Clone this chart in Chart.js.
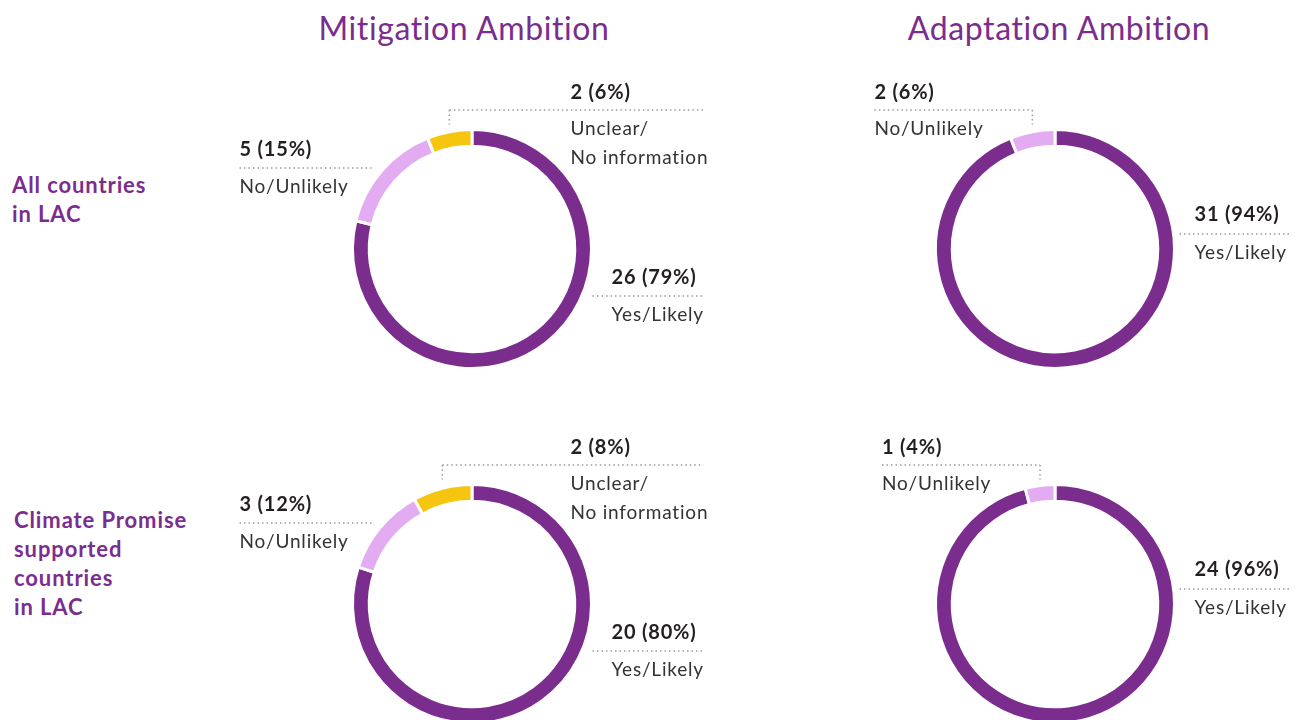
<!DOCTYPE html>
<html>
<head>
<meta charset="utf-8">
<script src="https://cdn.jsdelivr.net/npm/chart.js@4"></script>
<style>
  html, body { margin: 0; padding: 0; background: #fff; }
  body { width: 1300px; height: 720px; position: relative; overflow: hidden; font-family: Lato, "Open Sans", sans-serif; }
  .title { position: absolute; top: 8px; width: 420px; text-align: center; font-size: 32px; line-height: 40px; color: #7B2D8E; letter-spacing: 0.6px; }
  .rowlab { position: absolute; font-size: 22px; font-weight: bold; line-height: 29px; color: #7B2D8E; letter-spacing: 0.9px; }
  canvas { position: absolute; }
</style>
</head>
<body>
<div class="title" style="left:254px">Mitigation Ambition</div>
<div class="title" style="left:849px">Adaptation Ambition</div>
<div class="rowlab" style="left:12px; top:170px">All countries<br>in LAC</div>
<div class="rowlab" style="left:14px; top:505px">Climate Promise<br>supported<br>countries<br>in LAC</div>

<canvas id="mitAll" width="500" height="360" style="left:222px; top:69px"></canvas>
<canvas id="adaAll" width="500" height="360" style="left:805px; top:69px"></canvas>
<canvas id="mitCP" width="500" height="360" style="left:222px; top:424px"></canvas>
<canvas id="adaCP" width="500" height="360" style="left:805px; top:424px"></canvas>

<script>
// Dados
const categories = ['Yes/Likely', 'No/Unlikely', 'Unclear/No information'];
const mitigationAll = [26, 5, 2];
const mitigationCP = [20, 3, 2];
const adaptationAll = [31, 2];
const adaptationCP = [24, 1];

const colors = ['#7B2D8E', '#E3ABF1', '#F6C50F'];
const FONT = 'Lato, "Open Sans", sans-serif';

// Posições dos rótulos (relativas ao centro da rosca)
const mitigationLayout = [
    { index: 0, tx: 139.5, ty: 29, lineY: 47, x0: 120.5, x1: 231.5, lines: ['Yes/Likely'] },
    { index: 1, tx: -232.5, ty: -99, lineY: -81, x0: -232.5, x1: -100.5, lines: ['No/Unlikely'] },
    { index: 2, tx: 98.5, ty: -156, lineY: -139, leader: true, x1: 231.5, lines: ['Unclear/', 'No information'] }
];
const adaptationLayout = [
    { index: 0, tx: 139.5, ty: -34, lineY: -15, x0: 124.5, x1: 234.5, lines: ['Yes/Likely'] },
    { index: 1, txFromLeader: -158, ty: -156, lineY: -139, leader: true, lines: ['No/Unlikely'] }
];

function calloutPlugin(layout) {
    return {
        id: 'callouts',
        afterDraw(chart) {
            const ctx = chart.ctx;
            const meta = chart.getDatasetMeta(0);
            const values = chart.data.datasets[0].data;
            const total = values.reduce((a, b) => a + b, 0);
            const cx = meta.data[0].x, cy = meta.data[0].y;
            ctx.save();
            layout.forEach(c => {
                const arc = meta.data[c.index];
                let x0 = c.x0, x1 = c.x1, tx = c.tx;
                let vx = null;
                if (c.leader) {
                    const mid = (arc.startAngle + arc.endAngle) / 2;
                    vx = Math.cos(mid) * arc.outerRadius;
                    if (c.txFromLeader !== undefined) {
                        tx = vx + c.txFromLeader;
                        x0 = tx;
                        x1 = vx;
                    } else {
                        x0 = vx;
                    }
                }
                // linha pontilhada
                ctx.strokeStyle = '#9a9a9a';
                ctx.lineWidth = 1.5;
                ctx.setLineDash([1.5, 3]);
                ctx.beginPath();
                ctx.moveTo(cx + x0, cy + c.lineY);
                ctx.lineTo(cx + x1, cy + c.lineY);
                if (vx !== null) {
                    ctx.moveTo(cx + vx, cy + c.lineY);
                    ctx.lineTo(cx + vx, cy - arc.outerRadius - 5);
                }
                ctx.stroke();
                ctx.setLineDash([]);
                // texto
                const v = values[c.index];
                const pct = Math.round(v / total * 100);
                ctx.textAlign = 'left';
                ctx.textBaseline = 'middle';
                ctx.fillStyle = '#231F20';
                ctx.letterSpacing = '0.8px';
                ctx.font = 'bold 20px ' + FONT;
                ctx.fillText(v + ' (' + pct + '%)', cx + tx, cy + c.ty);
                ctx.fillStyle = '#333';
                ctx.font = '19px ' + FONT;
                c.lines.forEach((t, i) => {
                    ctx.fillText(t, cx + tx, cy + c.lineY + 19 + i * 28.5);
                });
            });
            ctx.restore();
        }
    };
}

function makeDonut(id, values, layout) {
    const n = values.length;
    new Chart(document.getElementById(id), {
        type: 'doughnut',
        data: {
            labels: categories.slice(0, n),
            datasets: [{
                data: values,
                backgroundColor: colors.slice(0, n),
                borderColor: '#ffffff',
                borderWidth: 3
            }]
        },
        options: {
            responsive: false,
            animation: false,
            devicePixelRatio: 1,
            cutout: '86%',
            layout: { padding: { left: 129, right: 129, top: 59, bottom: 59 } },
            plugins: {
                legend: { display: false },
                tooltip: { enabled: false }
            }
        },
        plugins: [calloutPlugin(layout)]
    });
}

makeDonut('mitAll', mitigationAll, mitigationLayout);
makeDonut('adaAll', adaptationAll, adaptationLayout);
makeDonut('mitCP', mitigationCP, mitigationLayout);
makeDonut('adaCP', adaptationCP, adaptationLayout);
</script>
</body>
</html>
